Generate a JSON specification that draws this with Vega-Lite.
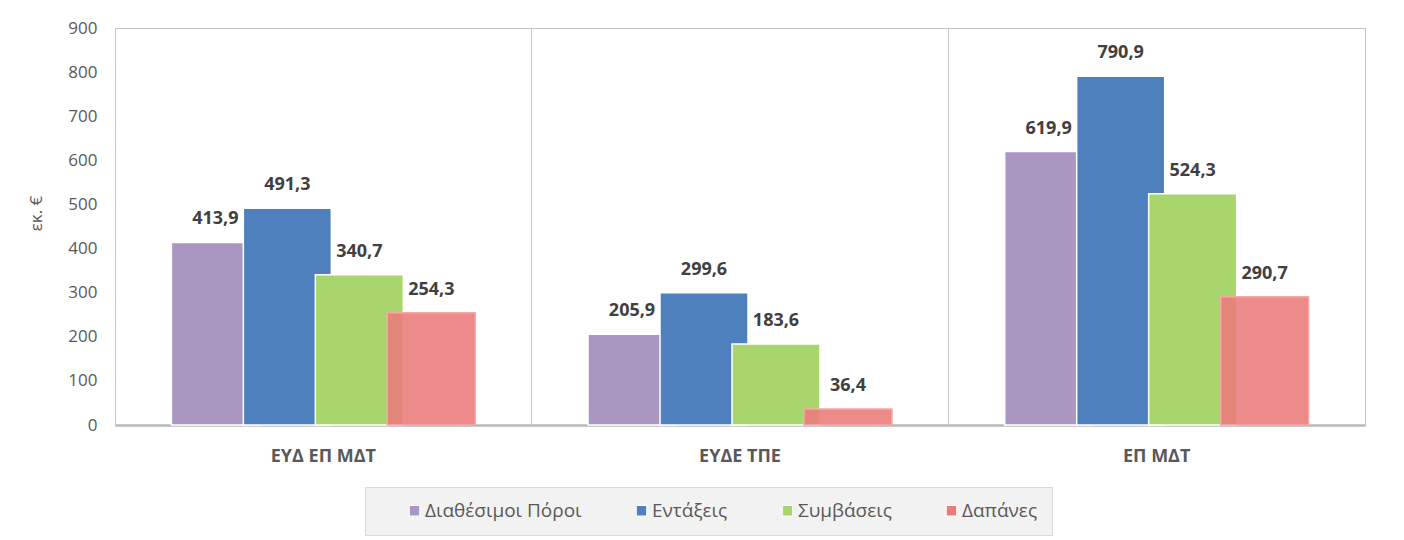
{
  "$schema": "https://vega.github.io/schema/vega-lite/v6.json",
  "width": 1250,
  "height": 397,
  "autosize": {"type": "none"},
  "padding": {"left": 115, "top": 28, "right": 39, "bottom": 115},
  "background": "white",
  "config": {
    "font": "Open Sans",
    "view": {"stroke": "#c4c4c4", "strokeWidth": 1},
    "locale": {"number": {"decimal": ",", "thousands": ".", "grouping": [3], "currency": ["", " €"]}}
  },
  "data": {
    "values": [
      {"group": "ΕΥΔ ΕΠ ΜΔΤ", "series": "Διαθέσιμοι Πόροι", "value": 413.9},
      {"group": "ΕΥΔ ΕΠ ΜΔΤ", "series": "Εντάξεις", "value": 491.3},
      {"group": "ΕΥΔ ΕΠ ΜΔΤ", "series": "Συμβάσεις", "value": 340.7},
      {"group": "ΕΥΔ ΕΠ ΜΔΤ", "series": "Δαπάνες", "value": 254.3},
      {"group": "ΕΥΔΕ ΤΠΕ", "series": "Διαθέσιμοι Πόροι", "value": 205.9},
      {"group": "ΕΥΔΕ ΤΠΕ", "series": "Εντάξεις", "value": 299.6},
      {"group": "ΕΥΔΕ ΤΠΕ", "series": "Συμβάσεις", "value": 183.6},
      {"group": "ΕΥΔΕ ΤΠΕ", "series": "Δαπάνες", "value": 36.4},
      {"group": "ΕΠ ΜΔΤ", "series": "Διαθέσιμοι Πόροι", "value": 619.9},
      {"group": "ΕΠ ΜΔΤ", "series": "Εντάξεις", "value": 790.9},
      {"group": "ΕΠ ΜΔΤ", "series": "Συμβάσεις", "value": 524.3},
      {"group": "ΕΠ ΜΔΤ", "series": "Δαπάνες", "value": 290.7}
    ]
  },
  "encoding": {
    "x": {
      "field": "group",
      "type": "nominal",
      "sort": ["ΕΥΔ ΕΠ ΜΔΤ", "ΕΥΔΕ ΤΠΕ", "ΕΠ ΜΔΤ"],
      "scale": {"paddingInner": 0, "paddingOuter": 0},
      "axis": {
        "title": null,
        "labelAngle": 0,
        "labelFontSize": 18,
        "labelFontWeight": "bold",
        "labelColor": "#595959",
        "labelPadding": 22,
        "ticks": false,
        "domainColor": "#b8b8b8",
        "domainWidth": 2.5,
        "grid": true,
        "gridColor": "#c4c4c4",
        "gridWidth": 1,
        "bandPosition": 0
      }
    },
    "xOffset": {
      "field": "series",
      "type": "nominal",
      "sort": ["Διαθέσιμοι Πόροι", "Εντάξεις", "Συμβάσεις", "Δαπάνες"],
      "scale": {"paddingInner": 0, "paddingOuter": 0.894}
    },
    "y": {
      "field": "value",
      "type": "quantitative",
      "scale": {"domain": [0, 900], "nice": false},
      "axis": {
        "title": "εκ. €",
        "titleFontSize": 17,
        "titleFontWeight": "normal",
        "titleColor": "#595959",
        "titleX": -70,
        "titleY": 185,
        "values": [0, 100, 200, 300, 400, 500, 600, 700, 800, 900],
        "labelFontSize": 17,
        "labelColor": "#595959",
        "labelPadding": 18,
        "ticks": false,
        "domain": false,
        "grid": false
      }
    }
  },
  "layer": [
    {
      "mark": {"type": "bar", "width": 88, "strokeWidth": 1.5},
      "encoding": {
        "color": {
          "field": "series",
          "type": "nominal",
          "sort": ["Διαθέσιμοι Πόροι", "Εντάξεις", "Συμβάσεις", "Δαπάνες"],
          "scale": {
            "domain": ["Διαθέσιμοι Πόροι", "Εντάξεις", "Συμβάσεις", "Δαπάνες"],
            "range": ["#a997c1", "#4e80bd", "#a8d66c", "#ea7b7b"]
          },
          "legend": {
            "title": null,
            "orient": "none",
            "legendX": 250,
            "legendY": 459,
            "direction": "horizontal",
            "fillColor": "#f2f2f2",
            "strokeColor": "#d9d9d9",
            "padding": 14,
            "symbolType": "square",
            "symbolSize": 110,
            "symbolStrokeColor": "white",
            "symbolStrokeWidth": 1,
            "symbolOpacity": 1,
            "symbolFillColor": null,
            "symbolOffset": 26,
            "labelFontSize": 19,
            "labelColor": "#595959",
            "labelOffset": 1,
            "columnPadding": 24,
            "labelLimit": 300
          }
        },
        "fillOpacity": {
          "condition": {"test": "datum.series === 'Δαπάνες'", "value": 0.88},
          "value": 1
        },
        "stroke": {
          "condition": {"test": "datum.series === 'Δαπάνες'", "value": "#f7a8a8"},
          "value": "#ffffff"
        }
      }
    },
    {
      "mark": {
        "type": "text",
        "baseline": "alphabetic",
        "dy": -18,
        "fontSize": 18,
        "fontWeight": "bold",
        "color": "#404040"
      },
      "encoding": {
        "text": {"field": "value", "type": "quantitative", "format": ".1f"}
      }
    }
  ]
}
